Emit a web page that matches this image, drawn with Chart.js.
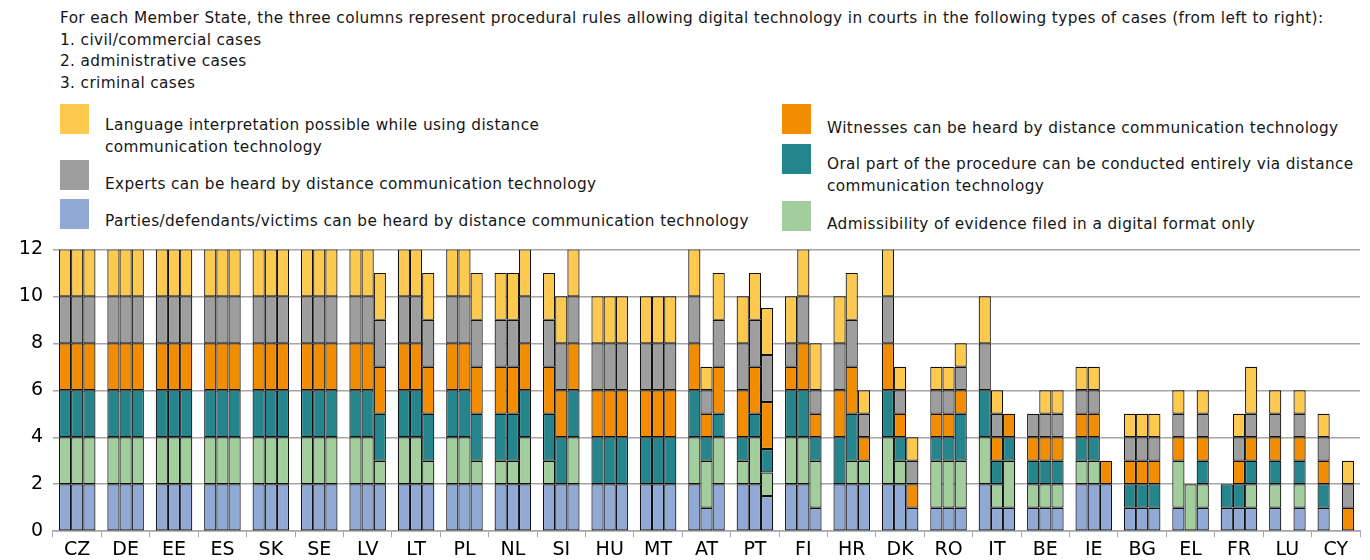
<!DOCTYPE html>
<html>
<head>
<meta charset="utf-8">
<script src="https://cdn.jsdelivr.net/npm/chart.js@4.4.1/dist/chart.umd.min.js"></script>
<style>
  html, body { margin: 0; padding: 0; background: #fff; overflow: hidden; }
  body { width: 1370px; height: 560px; position: relative; font-family: "DejaVu Sans", "Open Sans", sans-serif; color: #151515; }
  .intro { position: absolute; left: 60px; top: 8px; font-size: 15.3px; line-height: 21.7px; letter-spacing: 0.38px; }
  .leg { position: absolute; font-size: 15.3px; line-height: 22px; letter-spacing: 0.38px; }
  .sw { position: absolute; width: 29px; height: 30px; }
  .wrap { position: absolute; left: 0; top: 228px; width: 1370px; height: 334px; }
</style>
</head>
<body>
<div class="intro">
  For each Member State, the three columns represent procedural rules allowing digital technology in courts in the following types of cases (from left to right):<br>
  1. civil/commercial cases<br>
  2. administrative cases<br>
  3. criminal cases
</div>

<div class="sw" style="left:60px;top:104px;background:#FDC94F"></div>
<div class="leg" style="left:105px;top:114px">Language interpretation possible while using distance<br>communication technology</div>
<div class="sw" style="left:60px;top:160px;background:#9E9E9E"></div>
<div class="leg" style="left:105px;top:173px">Experts can be heard by distance communication technology</div>
<div class="sw" style="left:60px;top:199px;background:#91A9D5"></div>
<div class="leg" style="left:105px;top:210px">Parties/defendants/victims can be heard by distance communication technology</div>

<div class="sw" style="left:782px;top:104px;background:#F28C00"></div>
<div class="leg" style="left:827px;top:117px">Witnesses can be heard by distance communication technology</div>
<div class="sw" style="left:782px;top:144px;background:#24868C"></div>
<div class="leg" style="left:827px;top:153px">Oral part of the procedure can be conducted entirely via distance<br>communication technology</div>
<div class="sw" style="left:782px;top:201px;background:#A2CE9D"></div>
<div class="leg" style="left:827px;top:213px">Admissibility of evidence filed in a digital format only</div>

<div class="wrap"><canvas id="chart"></canvas></div>

<script>
// countries, each with three columns: civil/commercial, administrative, criminal
const countries = ["CZ","DE","EE","ES","SK","SE","LV","LT","PL","NL","SI","HU","MT","AT","PT","FI","HR","DK","RO","IT","BE","IE","BG","EL","FR","LU","CY"];

// values per country as [civil, administrative, criminal]
const parties = [[2,2,2],[2,2,2],[2,2,2],[2,2,2],[2,2,2],[2,2,2],[2,2,2],[2,2,2],[2,2,2],[2,2,2],[2,2,2],[2,2,2],[2,2,2],
  [2,1,2],[2,2,1.5],[2,2,1],[2,2,2],[2,2,1],[1,1,1],[2,1,1],[1,1,1],[2,2,2],[1,1,1],[1,0,1],[1,1,1],[1,0,1],[1,0,0]];
const admissibility = [[2,2,2],[2,2,2],[2,2,2],[2,2,2],[2,2,2],[2,2,2],[2,2,1],[2,2,1],[2,2,1],[1,1,2],[1,0,2],[0,0,0],[0,0,0],
  [2,2,2],[1,2,1],[2,2,2],[0,1,1],[2,1,0],[2,2,2],[2,1,2],[1,1,1],[1,1,0],[0,0,0],[2,2,1],[0,0,1],[1,0,1],[0,0,0]];
const oral = [[2,2,2],[2,2,2],[2,2,2],[2,2,2],[2,2,2],[2,2,2],[2,2,2],[2,2,2],[2,2,2],[2,2,2],[2,2,2],[2,2,2],[2,2,2],
  [2,1,1],[1,1,1],[2,2,1],[2,2,0],[2,1,0],[1,1,2],[2,1,1],[1,1,1],[1,1,0],[1,1,1],[0,0,1],[1,1,1],[1,0,1],[1,0,0]];
const witnesses = [[2,2,2],[2,2,2],[2,2,2],[2,2,2],[2,2,2],[2,2,2],[2,2,2],[2,2,2],[2,2,2],[2,2,2],[2,2,2],[2,2,2],[2,2,2],
  [2,1,2],[2,2,2],[1,2,1],[2,2,1],[2,1,1],[1,1,1],[0,1,1],[1,1,1],[1,1,1],[1,1,1],[1,0,1],[0,1,1],[1,0,1],[1,0,1]];
const experts = [[2,2,2],[2,2,2],[2,2,2],[2,2,2],[2,2,2],[2,2,2],[2,2,2],[2,2,2],[2,2,2],[2,2,2],[2,2,2],[2,2,2],[2,2,2],
  [2,1,2],[2,2,2],[1,2,1],[2,2,1],[2,1,1],[1,1,1],[2,1,0],[1,1,1],[1,1,0],[1,1,1],[1,0,1],[0,1,1],[1,0,1],[1,0,1]];
const language = [[2,2,2],[2,2,2],[2,2,2],[2,2,2],[2,2,2],[2,2,2],[2,2,2],[2,2,2],[2,2,2],[2,2,2],[2,2,2],[2,2,2],[2,2,2],
  [2,1,2],[2,2,2],[2,2,2],[2,2,1],[2,1,1],[1,1,1],[2,1,0],[0,1,1],[1,1,0],[1,1,1],[1,0,1],[0,1,2],[1,0,1],[1,0,1]];

const yTicks = [0, 2, 4, 6, 8, 10, 12];

const series = [
  { label: "Parties/defendants/victims can be heard by distance communication technology", values: parties, color: "#91A9D5" },
  { label: "Admissibility of evidence filed in a digital format only", values: admissibility, color: "#A2CE9D" },
  { label: "Oral part of the procedure can be conducted entirely via distance communication technology", values: oral, color: "#24868C" },
  { label: "Witnesses can be heard by distance communication technology", values: witnesses, color: "#F28C00" },
  { label: "Experts can be heard by distance communication technology", values: experts, color: "#9E9E9E" },
  { label: "Language interpretation possible while using distance communication technology", values: language, color: "#FDC94F" }
];

const datasets = [];
for (let col = 0; col < 3; col++) {
  series.forEach(s => {
    datasets.push({
      label: s.label,
      stack: "col" + col,
      data: s.values.map(v => v[col] === 0 ? null : v[col]),
      backgroundColor: s.color,
      borderColor: "#111",
      borderWidth: 1.2,
      borderSkipped: false,
      categoryPercentage: 0.755,
      barPercentage: 1.0
    });
  });
}

const ctx = document.getElementById("chart");
new Chart(ctx, {
  type: "bar",
  data: { labels: countries, datasets: datasets },
  options: {
    responsive: true,
    maintainAspectRatio: false,
    animation: false,
    layout: { padding: { top: 12, right: 10, left: 0, bottom: 0 } },
    plugins: {
      legend: { display: false },
      tooltip: { enabled: false }
    },
    scales: {
      x: {
        stacked: true,
        grid: { drawOnChartArea: false, drawTicks: true, tickLength: 6, color: "#A6A6A6", offset: true },
        border: { display: true, color: "#A6A6A6", width: 1.5 },
        ticks: { color: "#000", font: { family: "DejaVu Sans", size: 19 }, padding: 1, maxRotation: 0, autoSkip: false }
      },
      y: {
        stacked: true,
        min: 0,
        max: 12,
        afterBuildTicks: scale => { scale.ticks = yTicks.map(v => ({ value: v })); },
        afterFit: scale => { scale.width = 53; },
        grid: { color: "#A6A6A6", lineWidth: 1.5, drawTicks: false },
        border: { display: false },
        ticks: { color: "#000", font: { family: "DejaVu Sans", size: 19 }, padding: 10 }
      }
    }
  }
});
</script>
</body>
</html>
